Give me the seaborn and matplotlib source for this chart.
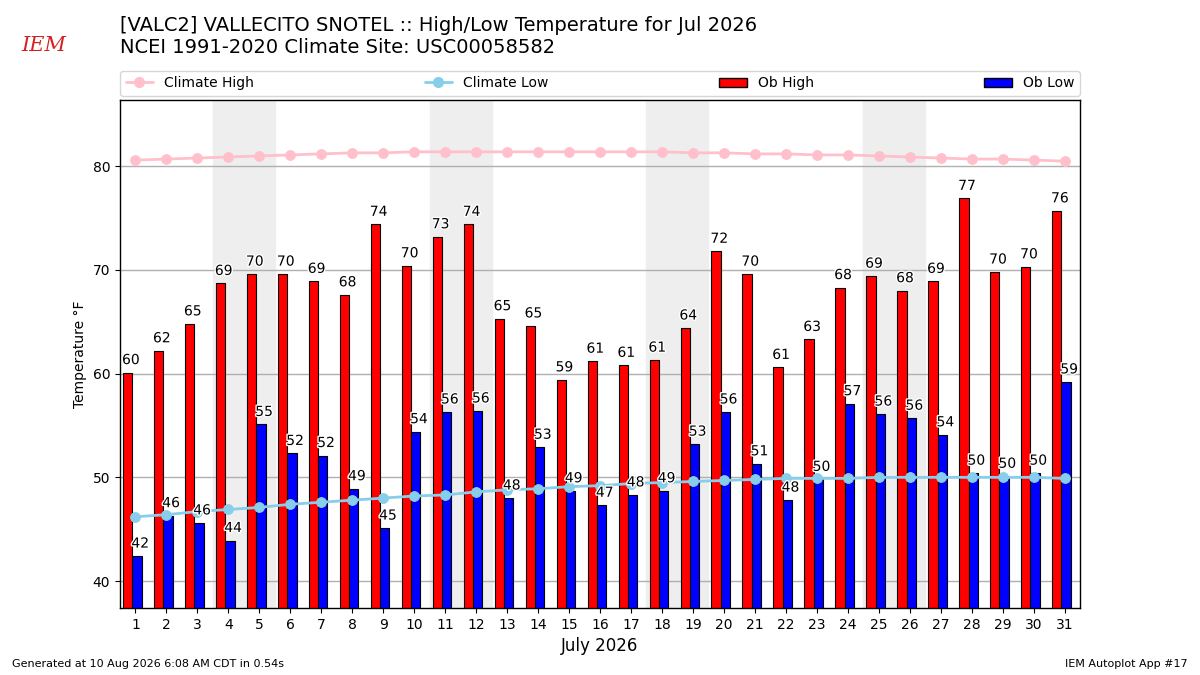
import numpy as np
import pandas as pd
import matplotlib
matplotlib.use("Agg")
import matplotlib.pyplot as plt
import matplotlib.patheffects as pe
from matplotlib.patches import Patch
import seaborn as sns

# DATA
days = list(range(1, 32))
ob_high = [60.1, 62.2, 64.8, 68.7, 69.6, 69.6, 68.9, 67.6, 74.4, 70.4,
           73.2, 74.4, 65.3, 64.6, 59.4, 61.2, 60.8, 61.3, 64.4, 71.8,
           69.6, 60.6, 63.3, 68.3, 69.4, 68.0, 68.9, 76.9, 69.8, 70.3, 75.7]
ob_low = [42.4, 46.3, 45.6, 43.9, 55.1, 52.3, 52.1, 48.9, 45.1, 54.4,
          56.3, 56.4, 48.0, 52.9, 48.7, 47.3, 48.3, 48.7, 53.2, 56.3,
          51.3, 47.8, 49.8, 57.1, 56.1, 55.7, 54.1, 50.4, 50.1, 50.4, 59.2]
clim_high = [80.6, 80.7, 80.8, 80.9, 81.0, 81.1, 81.2, 81.3, 81.3, 81.4,
             81.4, 81.4, 81.4, 81.4, 81.4, 81.4, 81.4, 81.4, 81.3, 81.3,
             81.2, 81.2, 81.1, 81.1, 81.0, 80.9, 80.8, 80.7, 80.7, 80.6, 80.5]
clim_low = [46.2, 46.4, 46.7, 46.9, 47.1, 47.4, 47.6, 47.8, 48.0, 48.2,
            48.3, 48.6, 48.8, 48.9, 49.1, 49.2, 49.4, 49.5, 49.6, 49.7,
            49.8, 49.9, 49.9, 49.9, 50.0, 50.0, 50.0, 50.0, 50.0, 50.0, 49.9]
weekend_starts = [4, 11, 18, 25]

df = pd.DataFrame({"day": days, "ob_high": ob_high, "ob_low": ob_low,
                   "clim_high": clim_high, "clim_low": clim_low})

sns.set_style("ticks", rc={"text.color": "black", "axes.labelcolor": "black",
                           "xtick.color": "black", "ytick.color": "black",
                           "axes.edgecolor": "black"})
plt.rcParams['font.family'] = ['DejaVu Sans']
plt.rcParams['axes.linewidth'] = 1.0

fig = plt.figure(figsize=(12, 6.75), dpi=100)
ax = fig.add_axes([0.1, 0.0993, 0.8, 0.7526])

# weekend shading
for d in weekend_starts:
    ax.axvspan(d - 0.5, d + 1.5, color="#eeeeee", zorder=0)

x = df["day"].to_numpy()
ax.bar(x - 0.4, df["ob_high"], width=0.3, align="edge", color="red",
       edgecolor="black", linewidth=0.8, zorder=2)
ax.bar(x - 0.1, df["ob_low"], width=0.3, align="edge", color="blue",
       edgecolor="black", linewidth=0.8, zorder=2)

sns.lineplot(data=df, x="day", y="clim_high", ax=ax, color="pink",
             marker="o", markersize=7, markeredgecolor="pink", linewidth=2,
             zorder=3)
sns.lineplot(data=df, x="day", y="clim_low", ax=ax, color="skyblue",
             marker="o", markersize=7, markeredgecolor="skyblue", linewidth=2,
             zorder=3)

stroke = [pe.withStroke(linewidth=2, foreground="white")]
for d, hi, lo in zip(days, ob_high, ob_low):
    ax.annotate(f"{hi:.0f}", (d - 0.15, hi), xytext=(0, 4),
                textcoords="offset points", ha="center", va="bottom",
                fontsize=10, zorder=4, path_effects=stroke)
    ax.annotate(f"{lo:.0f}", (d + 0.15, lo), xytext=(0, 4),
                textcoords="offset points", ha="center", va="bottom",
                fontsize=10, zorder=4, path_effects=stroke)

ax.set_xlim(0.5, 31.5)
ax.set_ylim(37.4, 86.4)
ax.set_xticks(days)
ax.set_yticks([40, 50, 60, 70, 80])
ax.tick_params(labelsize=10)
ax.grid(axis="y", color="#b0b0b0", linewidth=1)
ax.set_axisbelow(True)
ax.set_xlabel("July 2026", fontsize=12)
ax.set_ylabel("Temperature °F", fontsize=10)
for s in ax.spines.values():
    s.set_visible(True)
    s.set_color("black")

handles = [
    plt.Line2D([], [], color="pink", marker="o", markersize=7, linewidth=2),
    plt.Line2D([], [], color="skyblue", marker="o", markersize=7, linewidth=2),
    Patch(facecolor="red", edgecolor="black"),
    Patch(facecolor="blue", edgecolor="black"),
]
fig.legend(handles, ["Climate High", "Climate Low", "Ob High", "Ob Low"],
           loc="lower left", bbox_to_anchor=(0.1, 0.858, 0.8, 0.04),
           mode="expand", ncol=4, fontsize=10, borderaxespad=0)

fig.text(0.1, 0.977,
         "[VALC2] VALLECITO SNOTEL :: High/Low Temperature for Jul 2026\n"
         "NCEI 1991-2020 Climate Site: USC00058582",
         fontsize=14, va="top", ha="left")
fig.text(0.018, 0.925, "IEM", color="#d62020", fontsize=15, style="italic",
         family="serif")
fig.text(0.01, 0.012, "Generated at 10 Aug 2026 6:08 AM CDT in 0.54s",
         fontsize=8)
fig.text(0.99, 0.012, "IEM Autoplot App #17", fontsize=8, ha="right")

fig.savefig("out.png", dpi=100)
